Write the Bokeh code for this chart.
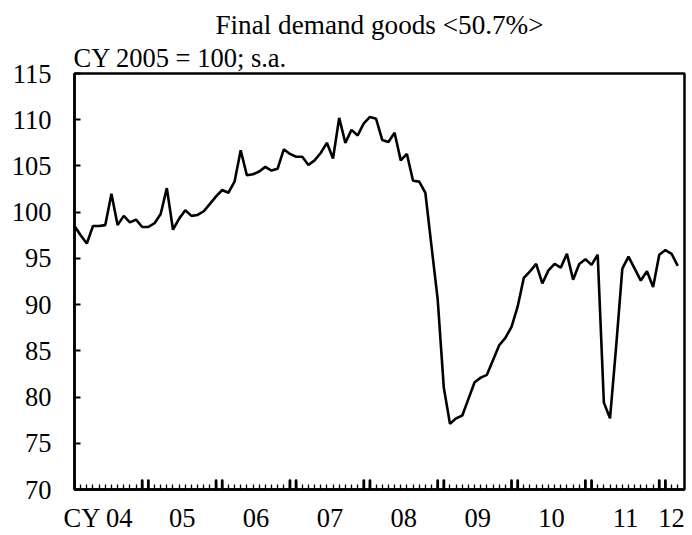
import numpy as np
import pandas as pd
from bokeh.plotting import figure
from bokeh.models import Range1d, FixedTicker, Title, CustomJSTickFormatter, ColumnDataSource
from bokeh.embed import file_html
from bokeh.resources import INLINE

# ---- data (monthly index, CY2005=100, s.a.), Jan 2004 - Mar 2012 ----
values = [
    98.5, 97.5, 96.6, 98.5, 98.5, 98.6, 102.0, 98.6, 99.6, 98.9, 99.2, 98.4,
    98.4, 98.8, 99.8, 102.6, 98.1, 99.3, 100.2, 99.6, 99.7, 100.1, 100.9, 101.7,
    102.4, 102.1, 103.3, 106.7, 104.0, 104.1, 104.4, 104.9, 104.5, 104.7, 106.8, 106.3,
    106.0, 106.0, 105.1, 105.6, 106.4, 107.5, 105.8, 110.2, 107.5, 108.9, 108.3, 109.6,
    110.3, 110.1, 107.8, 107.6, 108.6, 105.6, 106.3, 103.4, 103.3, 102.1, 96.3, 90.6,
    81.0, 77.1, 77.7, 78.0, 79.8, 81.6, 82.1, 82.4, 84.0, 85.6, 86.4, 87.6,
    89.8, 92.9, 93.6, 94.4, 92.3, 93.7, 94.4, 94.0, 95.5, 92.7, 94.4, 94.9,
    94.3, 95.4, 79.4, 77.7, 85.5, 93.9, 95.2, 93.9, 92.6, 93.6, 91.9, 95.4,
    95.9, 95.5, 94.2,
]
start_month = "2004-01-01"
year_labels = ["CY 04", "05", "06", "07", "08", "09", "10", "11", "12"]
y_ticks = [70, 75, 80, 85, 90, 95, 100, 105, 110, 115]
title_text = "Final demand goods <50.7%>"
subtitle_text = "CY 2005 = 100; s.a."

FONT = "'Liberation Serif', 'Times New Roman', serif"
FS = "26.5px"

months = pd.date_range(start_month, periods=len(values), freq="MS")
idx = np.arange(len(values))
years = months.year.values
year_list = sorted(set(years))
centers = [float(idx[years == y].mean()) for y in year_list]
centers[0] -= 1.6  # room for the "CY " prefix of the first label

# year-boundary (Dec / Jan) tick positions
mark_x = [float(i) for i, m in zip(idx, months.month) if m in (1, 12)]

p = figure(width=690, height=535, output_backend="svg", toolbar_location=None,
           title=None,
           x_range=Range1d(0, 99.1), y_range=Range1d(70, 115),
           min_border_left=74, min_border_right=6, min_border_top=73,
           min_border_bottom=42)

p.background_fill_color = "white"
p.border_fill_color = "white"
p.outline_line_color = "black"
p.outline_line_width = 2.5
p.xgrid.visible = False
p.ygrid.visible = False

src = ColumnDataSource(dict(x=idx, y=values))
p.line("x", "y", source=src, line_color="black", line_width=2.6)

# thicker monthly marks at year boundaries
msrc = ColumnDataSource(dict(x=mark_x, y0=[y_ticks[0]] * len(mark_x),
                             y1=[y_ticks[0] + 0.95] * len(mark_x)))
p.segment(x0="x", y0="y0", x1="x", y1="y1", source=msrc,
          line_color="black", line_width=2.8, line_cap="round")

# x axis
xa = p.xaxis[0]
xa.ticker = FixedTicker(ticks=centers, minor_ticks=[float(i) for i in idx])
xa.formatter = CustomJSTickFormatter(args=dict(pos=centers, labs=year_labels), code="""
    const i = pos.findIndex(v => Math.abs(v - tick) < 1e-6);
    return i >= 0 ? labs[i] : "";
""")
xa.major_tick_in = 0
xa.major_tick_out = 0
xa.minor_tick_in = 5
xa.minor_tick_out = 0
xa.minor_tick_line_width = 1.3
xa.minor_tick_line_color = "black"
xa.axis_line_width = 2.5
xa.axis_line_color = "black"
xa.major_label_text_font = FONT
xa.major_label_text_font_size = FS
xa.major_label_text_color = "black"
xa.major_label_standoff = 13

# y axis
ya = p.yaxis[0]
ya.ticker = FixedTicker(ticks=y_ticks, minor_ticks=[])
ya.major_tick_in = 6
ya.major_tick_out = 0
ya.major_tick_line_width = 2
ya.major_tick_line_color = "black"
ya.minor_tick_in = 0
ya.minor_tick_out = 0
ya.axis_line_width = 2.5
ya.axis_line_color = "black"
ya.major_label_text_font = FONT
ya.major_label_text_font_size = FS
ya.major_label_text_color = "black"
ya.major_label_standoff = 23

sub = Title(text=subtitle_text, align="left", text_font=FONT, text_font_size=FS,
            text_font_style="normal", text_color="black", standoff=2, offset=-1,
            text_line_height=0.9)
p.add_layout(sub, "above")
main = Title(text=title_text, align="center", text_font=FONT, text_font_size="27.2px",
             text_font_style="normal", text_color="black", standoff=0,
             text_line_height=0.8)
p.add_layout(main, "above")

open("out.html", "w").write(file_html(p, INLINE))
